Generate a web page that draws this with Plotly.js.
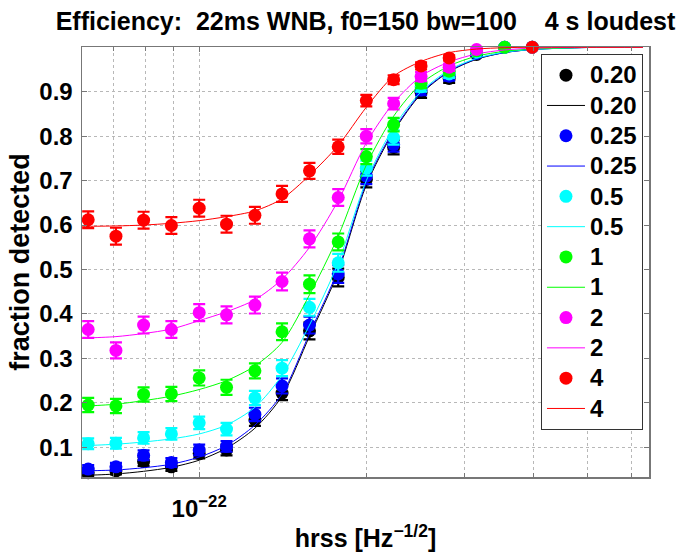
<!DOCTYPE html>
<html><head><meta charset="utf-8">
<script src="https://cdn.plot.ly/plotly-3.0.1.min.js"></script>
<style>html,body{margin:0;padding:0;background:#fff}#chart{width:684px;height:555px}</style>
</head><body><div id="chart"></div>
<script>
// injection amplitudes (hrss)
const hrss = [6.31e-23, 7.08e-23, 7.94e-23, 8.91e-23, 1.00e-22, 1.12e-22, 1.26e-22, 1.41e-22, 1.58e-22,
              1.78e-22, 2.00e-22, 2.24e-22, 2.51e-22, 2.82e-22, 3.16e-22, 3.55e-22, 3.98e-22];
// measured efficiencies
const eff020 = [0.043, 0.047, 0.068, 0.056, 0.086, 0.094, 0.162, 0.222, 0.362, 0.482, 0.703, 0.775, 0.898, 0.930, 0.984, 1.0, 1.0];
const eff025 = [0.051, 0.056, 0.082, 0.066, 0.094, 0.102, 0.174, 0.238, 0.375, 0.490, 0.710, 0.781, 0.904, 0.935, 0.986, 1.0, 1.0];
const eff05  = [0.108, 0.109, 0.121, 0.130, 0.155, 0.141, 0.211, 0.278, 0.415, 0.515, 0.728, 0.797, 0.911, 0.940, 0.990, 1.0, 1.0];
const eff1   = [0.195, 0.193, 0.219, 0.220, 0.256, 0.235, 0.272, 0.360, 0.467, 0.562, 0.754, 0.826, 0.919, 0.946, 0.992, 1.0, 1.0];
const eff2   = [0.365, 0.318, 0.375, 0.365, 0.403, 0.398, 0.420, 0.473, 0.569, 0.662, 0.800, 0.873, 0.934, 0.955, 0.995, null, 1.0];
const eff4   = [0.612, 0.575, 0.611, 0.599, 0.638, 0.602, 0.622, 0.670, 0.722, 0.776, 0.880, 0.927, 0.958, 0.976, null, null, 1.0];
// error bars
const err020 = [0.008, 0.008, 0.010, 0.009, 0.011, 0.012, 0.014, 0.016, 0.019, 0.020, 0.018, 0.016, 0.012, 0.010, 0.005, 0, 0];
const err025 = [0.009, 0.009, 0.011, 0.010, 0.012, 0.012, 0.015, 0.017, 0.019, 0.020, 0.018, 0.016, 0.012, 0.010, 0.004, 0, 0];
const err05  = [0.012, 0.012, 0.013, 0.013, 0.014, 0.014, 0.016, 0.018, 0.019, 0.020, 0.017, 0.016, 0.011, 0.009, 0.004, 0, 0];
const err1   = [0.016, 0.016, 0.016, 0.016, 0.017, 0.017, 0.017, 0.019, 0.020, 0.019, 0.017, 0.015, 0.011, 0.009, 0.003, 0, 0];
const err2   = [0.019, 0.018, 0.019, 0.019, 0.019, 0.019, 0.019, 0.020, 0.019, 0.019, 0.016, 0.013, 0.010, 0.008, 0.003, 0, 0];
const err4   = [0.019, 0.019, 0.019, 0.019, 0.019, 0.019, 0.019, 0.018, 0.018, 0.016, 0.013, 0.010, 0.008, 0.006, 0, 0, 0];
// fitted curves, sampled from the figure
const fitX = [6.15e-23, 6.31e-23, 7.08e-23, 7.94e-23, 8.91e-23, 1.00e-22, 1.12e-22, 1.26e-22, 1.41e-22, 1.58e-22,
              1.78e-22, 2.00e-22, 2.24e-22, 2.51e-22, 2.82e-22, 3.16e-22, 3.55e-22, 3.98e-22, 5.01e-22, 6.30e-22];
const fit020 = [0.036, 0.037, 0.040, 0.046, 0.055, 0.071, 0.098, 0.143, 0.215, 0.350, 0.495, 0.690, 0.810, 0.895, 0.945, 0.973, 0.988, 0.995, 0.9995, 1.0];
const fit025 = [0.046, 0.047, 0.049, 0.054, 0.062, 0.078, 0.104, 0.150, 0.220, 0.356, 0.500, 0.695, 0.813, 0.897, 0.946, 0.974, 0.988, 0.995, 0.9995, 1.0];
const fit05  = [0.103, 0.104, 0.107, 0.112, 0.119, 0.130, 0.150, 0.190, 0.262, 0.375, 0.515, 0.700, 0.820, 0.900, 0.949, 0.975, 0.989, 0.995, 0.9995, 1.0];
const fit1   = [0.192, 0.193, 0.197, 0.205, 0.215, 0.230, 0.250, 0.283, 0.336, 0.443, 0.575, 0.735, 0.845, 0.918, 0.958, 0.980, 0.991, 0.996, 0.9997, 1.0];
const fit2   = [0.345, 0.346, 0.349, 0.356, 0.366, 0.385, 0.405, 0.432, 0.478, 0.550, 0.655, 0.785, 0.875, 0.935, 0.967, 0.985, 0.994, 0.998, 1.0, 1.0];
const fit4   = [0.596, 0.597, 0.598, 0.600, 0.604, 0.610, 0.619, 0.632, 0.659, 0.712, 0.779, 0.865, 0.935, 0.968, 0.988, 0.996, 0.999, 1.0, 1.0, 1.0];

const labels = ['0.20', '0.25', '0.5', '1', '2', '4'];
const colors = ['#000000', '#0000ff', '#00ffff', '#00ff00', '#ff00ff', '#ff0000'];
const effs = [eff020, eff025, eff05, eff1, eff2, eff4];
const errs = [err020, err025, err05, err1, err2, err4];
const fits = [fit020, fit025, fit05, fit1, fit2, fit4];

const xMajorVals = [1e-22];
const xMajorText = ['10<sup>\u221222</sup>'];
const xMinorVals = [7e-23, 8e-23, 9e-23, 2e-22, 3e-22, 4e-22, 5e-22, 6e-22];
const yTickVals = [0.1, 0.2, 0.3, 0.4, 0.5, 0.6, 0.7, 0.8, 0.9];
const yTickText = ['0.1', '0.2', '0.3', '0.4', '0.5', '0.6', '0.7', '0.8', '0.9'];

const FONT = 'Liberation Sans, Arial, Helvetica, sans-serif';
const traces = [];
labels.forEach((lab, i) => {
  const legName = '<span style="font-size:24px">' + lab + '</span>';
  traces.push({
    x: hrss, y: effs[i], mode: 'markers', name: legName, type: 'scatter', cliponaxis: false,
    marker: {color: colors[i], size: 13},
    error_y: {type: 'data', array: errs[i], visible: true, color: colors[i], thickness: 2.2, width: 6}
  });
  traces.push({
    x: fitX, y: fits[i], mode: 'lines', name: legName, type: 'scatter', cliponaxis: false,
    line: {color: colors[i], width: 1, shape: 'spline', smoothing: 0.8}
  });
});

const gridStyle = {showgrid: true, gridcolor: '#b8b8b8', griddash: 'dot', gridwidth: 1};

const layout = {
  width: 684, height: 555,
  margin: {l: 82, r: 35, t: 47, b: 78},
  paper_bgcolor: '#fff', plot_bgcolor: '#fff',
  font: {family: FONT, color: '#000'},
  title: {text: 'Efficiency:\u00a0 22ms WNB, f0=150 bw=100\u00a0\u00a0\u00a0 4 s loudest',
          font: {family: FONT, size: 25, weight: 'bold', color: '#000'},
          xref: 'paper', x: 0.5, xanchor: 'center', yref: 'container', y: 0.962, yanchor: 'middle'},
  xaxis: Object.assign({
    type: 'log', range: [Math.log10(6.15e-23), Math.log10(6.46e-22)],
    tickmode: 'array', tickvals: xMajorVals, ticktext: xMajorText,
    tickfont: {family: FONT, size: 24, weight: 'bold', color: '#000'},
    ticklabelstandoff: 10,
    ticks: 'inside', ticklen: 5, tickcolor: '#777', mirror: 'ticks',
    showline: true, linecolor: '#777', linewidth: 1.5,
    zeroline: false,
    minor: {tickmode: 'array', tickvals: xMinorVals, ticks: 'inside', ticklen: 4, tickcolor: '#777',
            showgrid: true, gridcolor: '#b8b8b8', griddash: 'dot', gridwidth: 1},
    title: {text: 'hrss [Hz<sup>\u22121/2</sup>]', font: {family: FONT, size: 25, weight: 'bold', color: '#000'}, standoff: 8}
  }, gridStyle),
  yaxis: Object.assign({
    range: [0.0332, 1.0006],
    tickmode: 'array', tickvals: yTickVals, ticktext: yTickText,
    tickfont: {family: FONT, size: 24, weight: 'bold', color: '#000'},
    ticklabelstandoff: 3,
    ticks: 'inside', ticklen: 5, tickcolor: '#777', mirror: 'ticks',
    showline: true, linecolor: '#777', linewidth: 1.5,
    zeroline: false,
    title: {text: 'fraction detected', font: {family: FONT, size: 27, weight: 'bold', color: '#000'}, standoff: 2}
  }, gridStyle),
  showlegend: true,
  legend: {
    x: 0.8095, y: 0.9837, xanchor: 'left', yanchor: 'top',
    bgcolor: '#fff', bordercolor: '#333', borderwidth: 1,
    font: {family: FONT, size: 21, weight: 'bold', color: '#000'},
    itemwidth: 38,
    tracegroupgap: 0, traceorder: 'normal'
  }
};

Plotly.newPlot('chart', traces, layout, {displayModeBar: false, staticPlot: true});
</script></body></html>
